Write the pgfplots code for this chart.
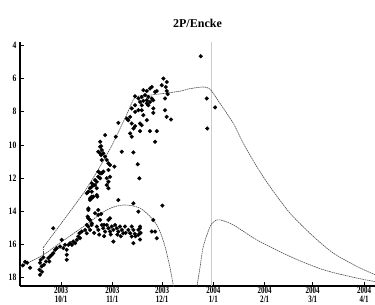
\documentclass[border=0pt]{standalone}
\usepackage{pgfplots}
\pgfplotsset{compat=1.18}
\usepackage{fontspec}
\setmainfont{Liberation Serif}
\begin{document}
\begin{tikzpicture}
\path[use as bounding box] (-15pt,-13.5pt) rectangle (266.25pt,214.5pt);
\begin{axis}[
  at={(0,0)}, anchor=south west,
  scale only axis, width=266.25pt, height=183pt,
  xmin=-24.8, xmax=189.6, ymin=3.8, ymax=18.5, y dir=reverse,
  axis x line=bottom, axis y line=left,
  axis line style={-, black, line width=0.8pt},
  tick style={black, line width=0.6pt},
  major tick length=3pt,
  tick align=inside,
  xtick={0,31,61,92,123,152,183},
  xticklabels={{2003\\10/1},{2003\\11/1},{2003\\12/1},{2004\\1/1},{2004\\2/1},{2004\\3/1},{2004\\4/1}},
  ytick={4,6,...,18},
  /pgf/number format/assume math mode=true,
  xticklabel style={font=\bfseries\fontsize{7.3}{6.6}\selectfont, align=center, xscale=0.72, inner sep=0.8pt},
  yticklabel style={font=\bfseries\fontsize{7.3}{7}\selectfont, xscale=0.78},
  title={2P/Encke},
  title style={font=\bfseries\fontsize{9}{10}\selectfont, at={(0.5,1)}, anchor=south, yshift=4.5pt, inner sep=0pt},
  clip=true,
]
% perihelion line
\addplot[gray!40, line width=0.7pt] coordinates {(91,3.8) (91,18.5)};
% model curves
\addplot[gray!60!black, line width=0.45pt, dash pattern=on 1.2pt off 0.5pt, smooth, tension=0.5] coordinates {
(-24.8,17.34) (-10.7,16.62) (-0.6,15.90) (13.5,14.92) (27.6,13.92) (37.6,13.62) (47.7,13.81) (55.7,14.52) (59.8,15.24) (62.8,16.12) (65.8,17.40) (67.8,18.48) (68.5,18.9)};
\addplot[gray!60!black, line width=0.45pt, dash pattern=on 1.2pt off 0.5pt] coordinates {(-10.7,16.62) (-10.7,16.17)};
\addplot[gray!60!black, line width=0.45pt, dash pattern=on 1.2pt off 0.5pt, smooth, tension=0.4] coordinates {
(-10.7,16.17) (12.7,13.02) (22.3,11.51) (30.8,10.01) (40,8.10) (44.7,7.13) (53.7,7.0) (62.8,6.89) (71.9,6.76) (77.9,6.61) (85.8,6.51) (90,6.64) (96,7.50) (104.1,8.71) (110.1,9.91) (118.2,11.31) (126.2,12.52) (138.3,14.12) (152.4,15.52) (164.4,16.52) (178.6,17.32) (189.6,17.82)};
\addplot[gray!60!black, line width=0.45pt, dash pattern=on 1.2pt off 0.5pt, smooth, tension=0.5] coordinates {
(81.9,18.62) (83.9,17.40) (85.9,16.12) (90,14.92) (93,14.58) (96,14.52) (104.1,14.82) (118.2,15.72) (138.3,16.72) (158.4,17.52) (178.6,18.02) (189.6,18.23)};
% observations
\addplot[only marks, mark=*, mark size=1.45pt, black, mark options={line width=0.2pt}] table {
x y
-12.7 17.82
-18.7 17.40
-23.1 17.26
-20.4 17.10
-12.7 17.10
-12.3 16.92
-10.7 16.78
-11.7 17.32
-10.3 17.22
-9.1 17.02
-7.7 16.82
-6.6 16.72
-5.6 16.62
-4.7 16.52
-7.1 17.02
-3.6 16.32
-2.6 16.22
-0.6 16.12
0.4 15.72
1.4 16.22
2.4 16.02
3.4 16.32
3.4 16.62
3.4 16.92
4.4 16.02
5.4 15.92
6.5 16.02
7.4 15.82
8.5 15.92
9.5 15.72
10.4 15.52
11.5 15.62
11.1 15.32
12.5 15.22
14.5 15.12
15.5 15.32
16.5 14.92
17.5 14.52
16.5 14.42
18.5 14.72
-4.7 15.02
16.5 13.82
17.5 13.32
18.5 13.12
21.9 13.12
20.5 14.12
22.5 13.92
23.6 14.52
26.0 14.82
-13.0 17.52
-11.5 17.64
-21.7 17.04
24.2 14.16
28.6 14.52
29.6 14.42
15.5 14.82
18.5 14.82
17.5 15.12
21.6 14.92
22.5 15.12
24.6 14.82
25.5 15.02
26.6 15.22
27.6 14.82
28.6 15.02
29.6 15.22
30.6 14.92
31.6 15.12
32.6 14.82
33.6 15.02
34.6 15.22
35.6 14.92
36.7 15.12
37.6 15.32
38.6 14.92
40.6 15.12
41.7 15.32
42.7 15.52
42.7 14.92
43.7 15.12
46.7 15.12
46.7 15.42
47.7 14.92
43.7 15.92
31.6 15.82
34.6 13.32
43.7 13.52
46.7 14.02
56.8 15.22
55.7 14.52
57.8 15.62
61.2 13.66
20.0 15.30
23.0 15.40
26.0 15.50
30.0 15.40
34.0 15.40
36.0 15.50
39.0 15.30
45.0 15.50
47.7 15.70
48.0 15.30
44.5 15.35
54.8 15.22
47.7 15.02
47.7 15.32
23.6 10.11
24.6 10.31
23.6 10.51
25.5 10.51
26.6 10.71
24.6 10.91
27.6 10.91
28.6 11.11
29.6 11.21
32.2 11.31
28.6 11.51
25.5 11.61
23.6 11.71
22.5 11.92
23.6 12.01
20.5 12.11
21.6 12.22
19.5 12.42
18.5 12.52
17.5 12.61
16.5 12.82
18.5 12.82
15.5 12.91
19.5 13.12
21.6 13.02
17.5 13.22
27.6 12.01
28.6 12.22
27.6 12.42
29.6 11.92
28.6 12.61
36.7 10.41
43.7 10.45
46.3 11.17
47.3 12.01
23.6 9.81
22.5 10.41
24.2 10.61
22.5 11.61
24.6 11.71
18.5 12.31
20.5 12.42
21.6 12.61
18.5 13.22
16.5 13.92
16.1 14.32
22.5 14.22
61.8 6.00
63.8 6.21
60.8 6.40
63.2 6.51
54.8 6.51
53.7 6.60
49.7 6.70
51.8 6.75
56.8 6.81
57.8 6.75
63.8 6.75
64.4 6.94
62.8 7.20
44.7 7.07
46.7 7.20
48.7 7.11
50.7 7.00
52.7 7.11
54.8 7.20
55.7 7.31
53.7 7.41
51.8 7.31
49.7 7.35
47.7 7.41
51.8 7.50
48.7 7.61
52.7 7.61
44.7 7.61
55.7 7.80
42.7 7.80
48.7 7.91
44.7 8.01
46.7 7.91
55.7 8.07
49.7 8.21
41.7 8.31
39.7 8.41
40.6 8.51
51.8 8.51
62.8 7.91
63.8 8.31
66.4 8.47
34.6 8.67
42.7 8.71
47.7 8.71
48.7 8.81
44.7 8.87
43.7 9.01
53.7 9.17
57.8 9.17
47.7 9.17
41.7 9.31
42.7 9.51
26.6 9.41
33.0 9.51
24.2 10.07
56.8 9.81
84.4 4.66
88.0 7.20
93.0 7.74
88.3 9.01
};
\end{axis}
\end{tikzpicture}
\end{document}
